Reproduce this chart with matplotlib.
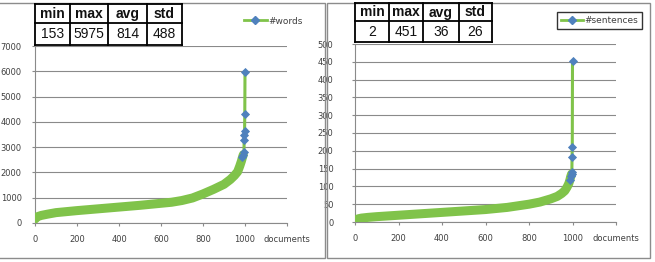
import matplotlib
matplotlib.use("Agg")
import matplotlib.pyplot as plt
from matplotlib.lines import Line2D
from matplotlib.patches import Rectangle

# ---------------- data ----------------
words_docs = [0, 5, 15, 30, 60, 100, 150, 200, 300, 400, 500, 600, 650, 700, 750,
              800, 850, 900, 930, 950, 965, 975, 983, 988, 992, 995, 996, 997, 998, 999, 1000]
words_vals = [153, 210, 260, 300, 350, 410, 450, 490, 560, 630, 700, 780, 820, 890, 990,
              1150, 1330, 1530, 1720, 1880, 2030, 2250, 2450, 2600, 2700, 2800, 3280, 3480, 3640, 4330, 5975]

sent_docs = [0, 5, 15, 30, 60, 100, 150, 200, 300, 400, 500, 600, 700, 800, 850,
             900, 930, 950, 965, 975, 983, 988, 992, 996, 997, 998, 999, 1000]
sent_vals = [2, 6, 9, 11, 13, 15, 17, 19, 23, 27, 31, 35, 41, 50, 56,
             65, 72, 80, 88, 98, 108, 118, 128, 135, 141, 183, 212, 451]

table_headers = ["min", "max", "avg", "std"]
words_stats = ["153", "5975", "814", "488"]
sent_stats = ["2", "451", "36", "26"]

x_ticks = [0, 200, 400, 600, 800, 1000, 1200]
x_labels = ["0", "200", "400", "600", "800", "1000", "documents"]
words_yticks = [0, 1000, 2000, 3000, 4000, 5000, 6000, 7000]
sent_yticks = [0, 50, 100, 150, 200, 250, 300, 350, 400, 450, 500]

# ---------------- style ----------------
GREEN = "#80C34A"
BLUE = "#4F81BD"
GRID = "#8A8A8A"
TXT = "#404040"

W, H = 655, 262
fig = plt.figure(figsize=(W / 100, H / 100), dpi=100)


def fx(px):
    return px / W


def fy(py):
    return 1 - py / H


# panel borders
for (x0, x1) in [(-2, 325), (327, 650)]:
    fig.add_artist(Rectangle((fx(x0), fy(258)), fx(x1) - fx(x0), (258 - 3) / H,
                             transform=fig.transFigure, fill=False,
                             edgecolor="#8C8C8C", lw=1.0))


def make_axes(left, right, top, bottom, docs, vals, yticks, ymax, ypad, label, dense_cut):
    ax = fig.add_axes([fx(left), fy(bottom), fx(right) - fx(left), (bottom - top) / H])
    ax.set_xlim(0, 1200)
    ax.set_ylim(0, ymax)
    ax.set_xticks(x_ticks)
    ax.set_xticklabels(x_labels)
    ax.set_yticks(yticks)
    ax.yaxis.grid(True, color=GRID, lw=0.8)
    ax.set_axisbelow(True)
    for s in ["top", "right"]:
        ax.spines[s].set_visible(False)
    for s in ["left", "bottom"]:
        ax.spines[s].set_color(GRID)
        ax.spines[s].set_linewidth(0.8)
    ax.tick_params(axis="both", labelsize=6, labelcolor=TXT, color=GRID,
                   length=2.5, width=0.8, direction="out")
    ax.tick_params(axis="y", pad=ypad)
    ax.tick_params(axis="x", pad=6)
    # dense band of overlapping markers
    dd = [d for d in docs if d <= dense_cut]
    dv = vals[:len(dd)]
    ax.plot(dd, dv, color=GREEN, lw=6.5, solid_capstyle="round",
            solid_joinstyle="round", zorder=3)
    # full series line
    ax.plot(docs, vals, color=GREEN, lw=2.2, zorder=4, label=label)
    # visible (blue) markers in the sparse tail
    td = [d for d in docs if d >= dense_cut - 8]
    tv = vals[len(docs) - len(td):]
    ax.plot(td, tv, ls="none", marker="D", ms=4.4, mfc=BLUE, mec=BLUE,
            mew=0.6, zorder=5, clip_on=False)
    return ax


axL = make_axes(35, 287, 46, 223, words_docs, words_vals, words_yticks, 7000, 7,
                "#words", 992)
axR = make_axes(355, 616, 44, 222, sent_docs, sent_vals, sent_yticks, 500, 13,
                "#sentences", 996)

handle = Line2D([], [], color=GREEN, lw=2, marker="D", ms=4, mfc=BLUE, mec=BLUE)

legL = axL.legend([handle], ["#words"], loc="upper left",
                  bbox_to_anchor=(fx(239), fy(12)), bbox_transform=fig.transFigure,
                  frameon=False, fontsize=6.5, handlelength=2.6, handletextpad=0.2,
                  borderpad=0.5, borderaxespad=0)
for t in legL.get_texts():
    t.set_color(TXT)
legR = axR.legend([handle], ["#sentences"], loc="upper left",
                  bbox_to_anchor=(fx(557), fy(12)), bbox_transform=fig.transFigure,
                  frameon=True, fancybox=False, fontsize=6.5, handlelength=2.4,
                  handletextpad=0.2, borderpad=0.45, borderaxespad=0)
legR.get_frame().set_edgecolor("black")
legR.get_frame().set_linewidth(1.0)
for t in legR.get_texts():
    t.set_color(TXT)


def draw_table(xs, y0, ymid, y1, headers, values):
    kw = dict(transform=fig.transFigure, color="black", lw=1.3)
    for y in (y0, ymid, y1):
        fig.add_artist(Line2D([fx(xs[0]), fx(xs[-1])], [fy(y), fy(y)], **kw))
    for x in xs:
        fig.add_artist(Line2D([fx(x), fx(x)], [fy(y0), fy(y1)], **kw))
    for i, (h, v) in enumerate(zip(headers, values)):
        cx = fx((xs[i] + xs[i + 1]) / 2)
        fig.text(cx, fy((y0 + ymid) / 2 + 0.5), h, ha="center", va="center",
                 fontsize=10, fontweight="bold", family="Liberation Sans", color="#111111")
        fig.text(cx, fy((ymid + y1) / 2 + 0.5), v, ha="center", va="center",
                 fontsize=10, family="Liberation Sans", color="#111111")


draw_table([35, 70, 108, 147, 182], 4, 23, 45, table_headers, words_stats)
draw_table([355, 389, 423, 459, 492], 3, 21, 42, table_headers, sent_stats)

fig.savefig("out.png", dpi=100)
